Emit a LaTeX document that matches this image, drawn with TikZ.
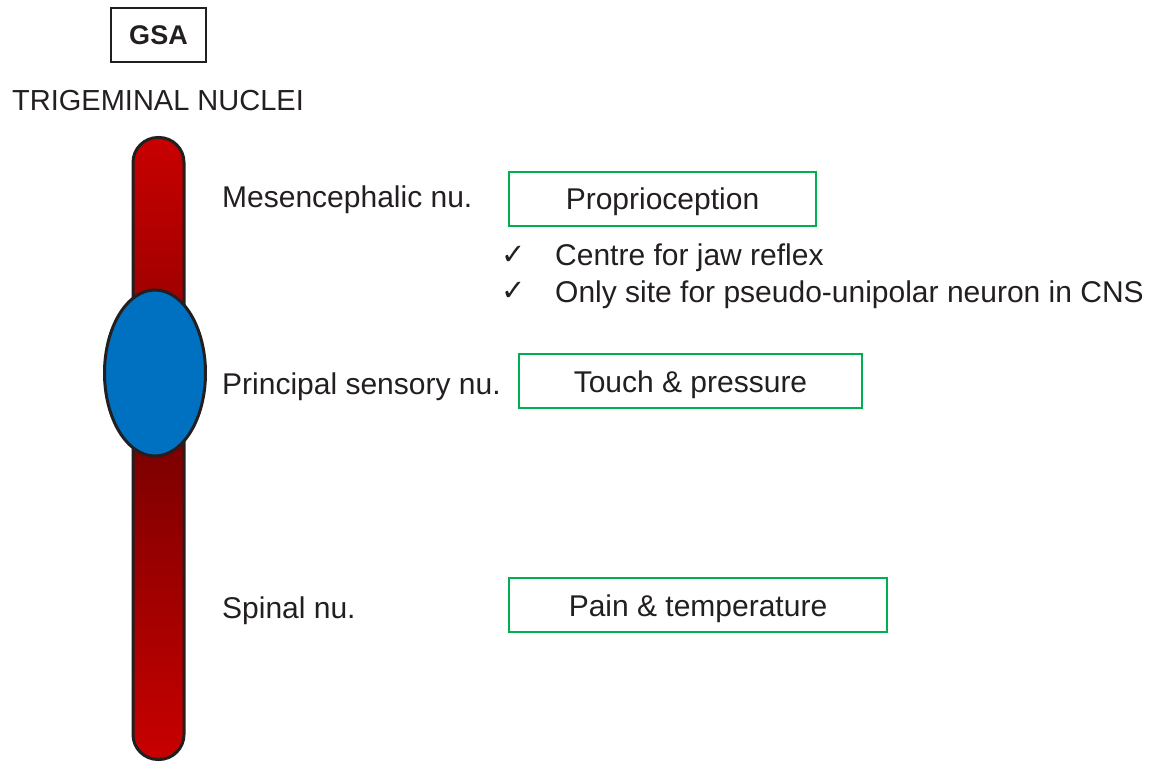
\documentclass[tikz,border=0pt]{standalone}
\usepackage{fontspec}
\setmainfont{Liberation Sans}
\newfontfamily\symfont{DejaVu Sans}
\usetikzlibrary{shapes.geometric, positioning}
\definecolor{ink}{RGB}{35,31,32}
\definecolor{nucred}{RGB}{200,0,0}
\definecolor{nucdark}{RGB}{125,0,0}
\definecolor{nucblue}{RGB}{0,112,192}
\definecolor{boxgreen}{RGB}{0,176,80}
\tikzset{
    txt/.style={anchor=base west, inner sep=0pt, text=ink, font=\fontsize{30}{36}\selectfont},
    tick/.style={anchor=base west, inner sep=0pt, text=ink, font=\symfont\fontsize{29}{34}\selectfont},
    funcbox/.style={rectangle, draw=boxgreen, line width=1.6pt, minimum height=54pt, inner sep=0pt, text height=22pt, text depth=0pt, text=ink, font=\fontsize{30}{36}\selectfont},
    tagbox/.style={rectangle, draw=ink, line width=1.5pt, minimum width=95pt, minimum height=54pt, text=ink, font=\bfseries\fontsize{27}{32}\selectfont},
    bar/.style={rectangle, rounded corners=25pt, draw=ink, line width=3pt, minimum width=51pt, minimum height=622pt, top color=nucred, bottom color=nucred, middle color=nucdark},
    pons/.style={ellipse, draw=ink, line width=3pt, fill=nucblue, minimum width=101pt, minimum height=166pt, inner sep=0pt}
}
\begin{document}
\begin{tikzpicture}[x=1pt, y=-1pt]
    \useasboundingbox (0,0) rectangle (1160,762);
    % header
    \node[tagbox] (gsa) at (158.5,35) {GSA};
    \node[txt, font=\fontsize{29}{34}\selectfont] (title) at (12,111) {TRIGEMINAL NUCLEI};
    % nuclear column
    \node[bar] (column) at (158.5,448.5) {};
    \node[pons] (principal) at (155,373) {};
    % nuclei names
    \node[txt] (mesname) at (222,208) {Mesencephalic nu.};
    \node[txt] (prinname) at (222,394) {Principal sensory nu.};
    \node[txt] (spinname) at (222,618) {Spinal nu.};
    % functions
    \node[funcbox, minimum width=307pt] (proprio) at (662.5,199) {Proprioception};
    \node[funcbox, minimum width=343pt] (touch) at (690.5,381) {Touch \& pressure};
    \node[funcbox, minimum width=378pt] (pain) at (698,605) {Pain \& temperature};
    % notes
    \node[tick] (tick1) at (501,265) {✓};
    \node[tick] (tick2) at (501,301) {✓};
    \node[txt] (jaw) at (555,266) {Centre for jaw reflex};
    \node[txt] (pseudo) at (555,302) {Only site for pseudo-unipolar neuron in CNS};
\end{tikzpicture}
\end{document}
